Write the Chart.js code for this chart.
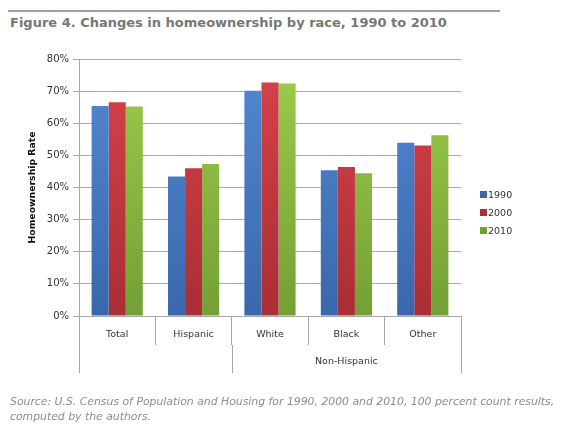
<!DOCTYPE html>
<html>
<head>
<meta charset="utf-8">
<script src="https://cdn.jsdelivr.net/npm/chart.js@4"></script>
<style>
  html,body{margin:0;padding:0;background:#fff;}
  #wrap{position:relative;width:569px;height:428px;overflow:hidden;font-family:'DejaVu Sans',Verdana,sans-serif;}
  #rule{position:absolute;left:8px;top:10px;width:492px;height:2px;background:#a0a0a0;}
  #title{position:absolute;left:10px;top:15px;font-size:13px;font-weight:bold;color:#777;white-space:nowrap;}
  #source{position:absolute;left:10px;top:394px;font-size:10.85px;font-style:italic;color:#8c8c8c;line-height:15px;white-space:nowrap;}
  #legend{position:absolute;left:480px;top:188px;font-size:9.5px;color:#333;}
  #legend div{height:18px;line-height:14px;}
  #legend span.sw{display:inline-block;width:7px;height:7px;margin-right:1px;vertical-align:0px;}
  canvas{position:absolute;left:0;top:0;}
</style>
</head>
<body>
<div id="wrap">
  <div id="rule"></div>
  <div id="title">Figure 4. Changes in homeownership by race, 1990 to 2010</div>
  <canvas id="chart" width="569" height="428"></canvas>
  <div id="legend"></div>
  <div id="source">Source: U.S. Census of Population and Housing for 1990, 2000 and 2010, 100 percent count results,<br>computed by the authors.</div>
</div>
<script>
const categories = ['Total','Hispanic','White','Black','Other'];
const groupLabel = 'Non-Hispanic';
const years = ['1990','2000','2010'];
const rate1990 = [65.4, 43.4, 70.1, 45.4, 53.9];
const rate2000 = [66.5, 46.0, 72.7, 46.4, 53.1];
const rate2010 = [65.2, 47.3, 72.4, 44.4, 56.3];
const yTicks = [0,10,20,30,40,50,60,70,80];

const colorsTop = ['#5289d4','#d8424a','#9ecc4a'];
const colorsBottom = ['#3a67ab','#a92e35','#73a035'];
const lineColor = '#a8a8a8';
const font = "'DejaVu Sans', Verdana, sans-serif";

function grad(i){
  return (c)=>{
    const a = c.chart.chartArea;
    if(!a) return colorsTop[i];
    const g = c.chart.ctx.createLinearGradient(0,a.top,0,a.bottom);
    g.addColorStop(0,colorsTop[i]); g.addColorStop(1,colorsBottom[i]);
    return g;
  };
}

// group row under the category labels
const groupRow = {
  id:'groupRow',
  afterDraw(chart){
    const x = chart.scales.x, c = chart.ctx;
    const y0 = chart.chartArea.bottom, y1 = y0+29, y2 = y0+57;
    const left = x.left, mid = x.getPixelForValue(1.5), right = x.right;
    c.save();
    c.strokeStyle = lineColor; c.lineWidth = 1;
    c.beginPath();
    [left,mid,right].forEach(px=>{ const p=Math.round(px)+0.5; c.moveTo(p,y1); c.lineTo(p,y2); });
    c.stroke();
    c.fillStyle = '#333'; c.font = '9.5px '+font;
    c.textAlign = 'center'; c.textBaseline = 'middle';
    c.fillText(groupLabel,(mid+right)/2,y0+46);
    c.restore();
  }
};

new Chart(document.getElementById('chart'),{
  type:'bar',
  data:{
    labels:categories,
    datasets:[
      {label:years[0],data:rate1990,backgroundColor:grad(0)},
      {label:years[1],data:rate2000,backgroundColor:grad(1)},
      {label:years[2],data:rate2010,backgroundColor:grad(2)}
    ]
  },
  options:{
    responsive:false,
    animation:false,
    layout:{padding:{top:59,right:108,left:0,bottom:0}},
    datasets:{bar:{categoryPercentage:0.67,barPercentage:1.0}},
    plugins:{legend:{display:false},tooltip:{enabled:false}},
    scales:{
      x:{
        offset:true,
        grid:{offset:true,drawOnChartArea:false,tickLength:29,color:lineColor},
        border:{color:lineColor},
        ticks:{color:'#333',font:{family:font,size:9.5},padding:-16},
        afterFit(s){ s.height = 112; }
      },
      y:{
        min:0,max:80,
        afterBuildTicks(s){ s.ticks = yTicks.map(v=>({value:v})); },
        grid:{color:lineColor,tickLength:6},
        border:{color:lineColor},
        ticks:{color:'#333',font:{family:font,size:10},padding:4,callback:v=>v+'%'},
        title:{display:true,text:'Homeownership Rate',color:'#111',font:{family:font,size:9.3,weight:'bold'},padding:{top:27,bottom:0}},
        afterFit(s){ s.width = 79; }
      }
    }
  },
  plugins:[groupRow]
});

document.getElementById('legend').innerHTML = years.map((y,i)=>
  `<div><span class="sw" style="background:${colorsBottom[i]}"></span>${y}</div>`).join('');
</script>
</body>
</html>
